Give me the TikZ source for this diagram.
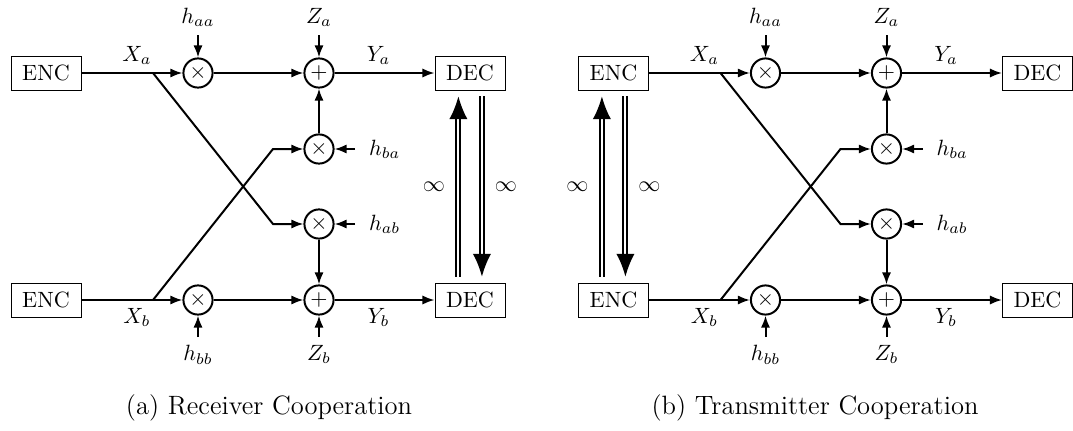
\documentclass[tikz,border=0pt]{standalone}
\usetikzlibrary{arrows.meta}
\tikzset{>={Latex[length=5.5pt,width=4.2pt]}}
\tikzset{
  box/.style={draw, minimum width=31.7pt, minimum height=15.4pt, inner sep=0pt},
  op/.style={draw, circle, line width=0.9pt, minimum size=13.2pt, inner sep=0pt},
  sig/.style={->, line width=0.9pt},
  coop/.style={double, double distance=0.9pt, line width=0.9pt,
    -{Latex[length=10.4pt,width=8.3pt]}, shorten >=2.6pt, shorten <=2.6pt},
}

\begin{document}
\begin{tikzpicture}[x=0.4525pt, y=-0.4525pt]
  \useasboundingbox (0,0) rectangle (1073,430);
  \foreach \p/\dx in {r/0, t/567.5} {
    \begin{scope}[shift={(\dx,0)}]
      % encoders, decoders and the channel
      \node[box] (\p-encA) at (46,73) {ENC};
      \node[box] (\p-encB) at (46,300) {ENC};
      \node[op] (\p-mulAA) at (198,73) {$\times$};
      \node[op] (\p-mulBB) at (198,300) {$\times$};
      \node[op] (\p-addA) at (319,73) {$+$};
      \node[op] (\p-mulBA) at (319,149) {$\times$};
      \node[op] (\p-mulAB) at (319,224) {$\times$};
      \node[op] (\p-addB) at (319,300) {$+$};
      \node[box] (\p-decA) at (470,73) {DEC};
      \node[box] (\p-decB) at (470,300) {DEC};
      \coordinate (\p-jA) at (153,73);
      \coordinate (\p-jB) at (153,300);
      \coordinate (\p-kA) at (273,224);
      \coordinate (\p-kB) at (273,149);
      \coordinate (\p-gAA) at (198,35);
      \coordinate (\p-gBB) at (198,337);
      \coordinate (\p-nA) at (319,35);
      \coordinate (\p-nB) at (319,337);
      \coordinate (\p-gBA) at (355,149);
      \coordinate (\p-gAB) at (355,224);
      % direct links
      \draw[sig] (\p-encA) -- node[above, pos=0.55] {$X_a$} (\p-mulAA);
      \draw[sig] (\p-encB) -- node[below, pos=0.55] {$X_b$} (\p-mulBB);
      \draw[sig] (\p-mulAA) -- (\p-addA);
      \draw[sig] (\p-mulBB) -- (\p-addB);
      \draw[sig] (\p-addA) -- node[above, pos=0.44] {$Y_a$} (\p-decA);
      \draw[sig] (\p-addB) -- node[below, pos=0.44] {$Y_b$} (\p-decB);
      % cross links
      \draw[sig] (\p-jA) -- (\p-kA) -- (\p-mulAB);
      \draw[sig] (\p-jB) -- (\p-kB) -- (\p-mulBA);
      \draw[sig] (\p-mulBA) -- (\p-addA);
      \draw[sig] (\p-mulAB) -- (\p-addB);
      % gains and noise
      \draw[sig] (\p-gAA) node[above] {$h_{aa}$} -- (\p-mulAA);
      \draw[sig] (\p-gBB) node[below] {$h_{bb}$} -- (\p-mulBB);
      \draw[sig] (\p-nA) node[above] {$Z_a$} -- (\p-addA);
      \draw[sig] (\p-nB) node[below] {$Z_b$} -- (\p-addB);
      \draw[sig] (\p-gBA) node[right, xshift=2.6pt] {$h_{ba}$} -- (\p-mulBA);
      \draw[sig] (\p-gAB) node[right, xshift=2.6pt] {$h_{ab}$} -- (\p-mulAB);
    \end{scope}
  }
  % cooperation links
  \draw[coop] ([xshift=-5.25pt]r-decB.north) -- node[left, xshift=-2.3pt] {$\infty$} ([xshift=-5.25pt]r-decA.south);
  \draw[coop] ([xshift=5.4pt]r-decA.south) -- node[right, xshift=2.1pt] {$\infty$} ([xshift=5.4pt]r-decB.north);
  \draw[coop] ([xshift=-5.25pt]t-encB.north) -- node[left, xshift=-2.3pt] {$\infty$} ([xshift=-5.25pt]t-encA.south);
  \draw[coop] ([xshift=5.4pt]t-encA.south) -- node[right, xshift=2.1pt] {$\infty$} ([xshift=5.4pt]t-encB.north);
  % captions
  \node (capR) at (269,408) {\large (a) Receiver Cooperation};
  \node (capT) at (815,408) {\large (b) Transmitter Cooperation};
\end{tikzpicture}
\end{document}
